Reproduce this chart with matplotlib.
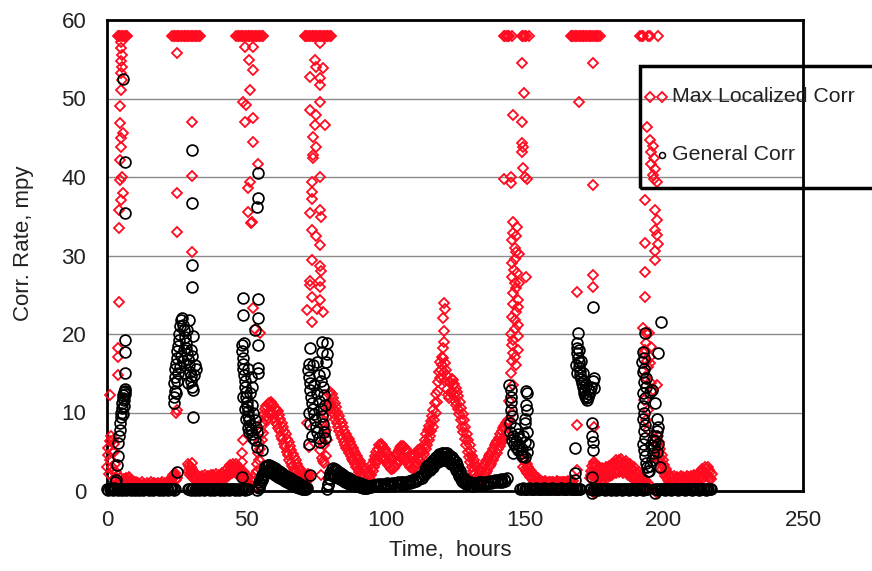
import numpy as np
import matplotlib
matplotlib.use("Agg")
import matplotlib.pyplot as plt
from matplotlib.lines import Line2D
from matplotlib.patches import Rectangle

plt.rcParams["font.family"] = ["Liberation Sans", "DejaVu Sans"]

x_ticks = [0, 50, 100, 150, 200, 250]
y_ticks = [0, 10, 20, 30, 40, 50, 60]
series_labels = ["Max Localized Corr", "General Corr"]
x_label = "Time,  hours"
y_label = "Corr. Rate, mpy"

# ---------------- Max Localized Corr: continuous record, one reading every 0.25 h ----------------
RED_STEP = 0.25
red_low_starts = [0.0, 29.0, 52.5, 77.0, 149.5, 173.5, 197.0]
red_low_1 = [3.0, 4.6, 5.5, 2.2, 4.0, 6.4, 7.0, 3.1, 2.5, 5.0,
             6.0, 1.6, 3.5, 2.4, 1.5, 1.0, 2.0, 0.8, 1.2, 1.6,
             1.0, 0.6, 0.8, 1.3, 1.5, 0.9, 1.0, 1.7, 1.5, 1.1,
             1.3, 1.8, 1.6, 1.0, 1.2, 1.4, 1.0, 0.7, 0.9, 1.1,
             0.8, 1.1, 0.7, 0.5, 0.6, 1.0, 0.7, 0.9, 0.8, 0.5,
             0.6, 1.1, 0.7, 0.9, 0.6, 0.4, 0.7, 1.0, 0.6, 0.8,
             0.5, 0.9, 0.7, 1.1, 0.8, 0.6, 0.6, 1.0, 0.7, 0.5,
             0.5, 0.9, 0.6, 1.0, 0.7, 0.5, 0.6, 0.9, 0.8, 1.1,
             0.7, 0.5, 0.6, 1.0, 0.7, 0.9, 0.8, 1.2, 0.9, 1.3,
             1.0, 1.4, 1.2, 1.7, 1.5, 2.0, 1.8, 2.3, 2.0, 1.4, 1.6]
red_low_2 = [3.5, 2.6, 3.2, 2.0, 2.5, 3.0, 2.2, 1.6, 1.8, 2.4, 1.9, 1.4, 1.6, 2.1, 1.5, 1.2,
             1.2, 1.8, 1.4, 1.0, 1.3, 1.9, 1.5, 1.1, 1.4, 2.0, 1.6, 1.2, 1.3, 1.9, 1.5, 1.1,
             1.5, 2.1, 1.7, 1.3, 1.4, 2.0, 1.6, 1.2, 1.6, 2.2, 1.8, 1.4, 1.5, 2.1, 1.7, 1.3,
             1.7, 2.3, 1.9, 1.5, 1.8, 2.5, 2.0, 1.6,
             2.0, 2.8, 2.4, 2.0, 2.5, 3.3, 2.9, 2.3, 2.6, 3.5, 3.0, 2.4, 2.5, 3.4, 2.9, 2.2,
             2.3, 3.1, 2.6, 1.9,
             1.7, 2.5, 2.1, 1.5, 1.6, 2.4, 2.0, 1.4, 1.2, 1.8, 1.0, 0.7]
red_low_3 = [0.4, 1.6, 0.6, 2.2, 1.4, 3.4, 2.6, 4.8,
             3.9, 6.2, 5.4, 7.6, 6.5, 8.6, 7.4, 9.8,
             8.5, 10.4, 9.0, 10.8, 9.6, 11.1, 9.9, 11.2,
             10.0, 11.3, 9.8, 11.1, 9.9, 10.9, 9.3, 10.6,
             8.8, 10.3, 8.5, 10.2, 8.0, 9.7, 7.6, 9.2,
             7.0, 8.7, 6.6, 8.2, 6.0, 7.7, 5.6, 7.2,
             5.0, 6.6, 4.6, 6.2, 4.0, 5.7, 3.6, 5.2,
             3.2, 4.7, 2.8, 4.3, 2.5, 3.9, 2.1, 3.5,
             1.8, 3.1, 1.5, 2.8, 1.3, 2.5, 1.1, 2.2,
             1.0, 1.9, 0.9, 1.7, 1.2, 2.0, 1.3, 2.2, 1.5, 2.0]
red_low_4 = [2.0, 4.2, 3.8, 6.2, 5.8, 8.2, 7.8, 10.0, 9.4, 11.2, 10.6, 12.4, 11.2, 12.6, 11.0, 12.3,
             10.4, 11.8, 9.8, 11.2, 9.2, 10.7, 8.7, 10.1, 8.1, 9.6, 7.7, 9.1, 7.1, 8.6, 6.7, 8.1,
             6.3, 7.7, 5.9, 7.3, 5.5, 6.9, 5.2, 6.6, 4.9, 6.2, 4.5, 5.9, 4.1, 5.5, 3.8, 5.1,
             3.4, 4.8, 3.1, 4.5, 2.8, 4.1, 2.4, 3.8, 2.1, 3.4, 1.8, 3.1, 1.5, 2.8, 1.3, 2.5,
             1.1, 2.3, 1.0, 2.1, 1.0, 2.2,
             1.5, 2.8, 2.0, 3.4, 2.6, 4.0, 3.1, 4.5, 3.6, 5.0, 4.0, 5.4, 4.4, 5.8, 4.6, 6.0,
             4.7, 5.9, 4.5, 5.6, 4.2, 5.3, 3.9, 5.0, 3.6, 4.7, 3.3, 4.4, 3.0, 4.2, 2.8, 4.1,
             2.8, 4.1, 2.9, 4.3, 3.2, 4.6, 3.5, 4.9, 3.8, 5.2, 4.0, 5.5, 4.2, 5.7, 4.3, 5.7,
             4.2, 5.6, 4.1, 5.4, 3.9, 5.1, 3.6, 4.9, 3.3, 4.6, 3.1, 4.4, 2.9, 4.3, 2.9, 4.3,
             3.0, 4.6, 3.3, 4.9, 3.6, 5.2, 3.9, 5.3, 3.8, 5.1,
             3.4, 5.0, 4.1, 5.8, 4.7, 6.5, 5.4, 7.2, 5.9, 7.8, 6.5, 8.3, 7.0, 8.9, 7.6, 9.6,
             8.2, 10.3, 9.0, 11.2, 9.9, 12.4, 11.3, 13.9, 12.8, 15.2, 14.4, 16.4, 15.4, 17.1, 16.0, 16.9,
             15.2, 16.3, 14.0, 15.4, 13.0, 14.6, 12.2, 13.9, 11.9, 13.9, 12.5, 14.3, 12.8, 14.2, 12.2, 13.6,
             11.5, 13.1, 11.0, 12.6, 10.4, 12.1, 9.8, 11.4, 9.0, 10.6, 8.2, 9.8, 7.5, 9.0, 6.6, 8.1,
             5.8, 7.3, 5.0, 6.5, 4.3, 5.8, 3.7, 5.1, 3.1, 4.5, 2.6, 4.0, 2.2, 3.5, 1.8, 3.1,
             1.5, 2.8, 1.4, 2.6, 1.3, 2.6, 1.5, 2.9, 1.8, 3.2, 2.1, 3.5, 2.3, 3.8, 2.6, 4.1,
             2.9, 4.4, 3.2, 4.7, 3.5, 5.0, 3.9, 5.4, 4.3, 5.8, 4.6, 6.1, 4.9, 6.4, 5.3, 6.8,
             5.7, 7.2, 6.1, 7.6, 6.5, 8.0, 6.8, 8.3, 7.1, 8.6, 7.3, 8.8]
red_low_5 = [3.0, 4.0, 2.8, 3.7, 2.5, 3.4, 2.3, 3.1, 2.0, 2.8, 1.8, 2.6, 1.6, 2.3, 1.4, 2.1,
             1.3, 1.9, 1.1, 1.7, 1.0, 1.6, 0.9, 1.4, 0.8, 1.3,
             0.7, 1.2, 0.6, 1.1, 0.8, 1.3, 0.7, 1.1, 0.6, 1.0, 0.8, 1.2, 0.7, 1.1, 0.6, 1.2,
             0.8, 1.1, 0.7, 1.0, 0.6, 1.2, 0.8, 1.3, 0.7, 1.1, 0.6, 1.0, 0.8, 1.2, 0.7, 1.1,
             0.6, 1.2, 0.8, 1.1, 0.7, 1.0, 0.8, 1.3, 0.9, 1.2, 0.8, 1.4, 1.0, 1.3]
red_low_6 = [1.6, 2.6, 2.0, 3.2, 2.4, 3.4, 1.9, 3.0, 2.2, 3.3, 1.7, 2.9, 2.0, 3.1, 1.6, 2.7,
             1.9, 2.9, 1.5, 2.5, 1.8, 2.8, 2.0, 3.1, 1.7, 2.7, 2.1, 3.2, 1.9, 2.9, 2.2, 3.4,
             2.0, 3.1, 2.4, 3.6, 2.6, 3.9, 2.3, 3.5, 2.7, 4.0, 2.4, 3.7, 2.8, 4.1, 2.5, 3.6,
             2.3, 3.4, 2.6, 3.8, 2.4, 3.5, 2.0, 3.1, 2.3, 3.4, 1.9, 2.9, 1.7, 2.7, 2.0, 3.0,
             1.6, 2.5, 1.4, 2.2, 1.2, 2.0, 1.5, 2.4, 1.3, 2.0, 1.1, 1.8, 1.0, 1.6, 0.9, 1.4,
             0.8, 1.2, 0.7, 1.0]
red_low_7 = [4.5, 6.6, 5.8, 7.0, 5.0, 6.3, 4.2, 5.4, 3.5, 4.6, 2.8, 3.9, 2.3, 3.3, 1.9, 2.8,
             1.6, 2.4, 1.4, 2.1, 1.2, 1.9,
             1.1, 1.8, 1.0, 1.7, 1.2, 1.9, 1.0, 1.6, 1.1, 1.8, 1.2, 1.7, 1.0, 1.6, 1.1, 1.9,
             1.2, 1.8, 1.0, 1.7, 1.1, 1.6, 1.2, 1.9, 1.0, 1.8, 1.1, 1.7, 1.2, 1.9, 1.1, 1.8,
             1.3, 2.0, 1.2, 1.9, 1.4, 2.1, 1.3, 2.0,
             1.5, 2.3, 1.6, 2.5, 1.8, 2.8, 1.7, 2.6, 2.0, 3.0, 1.9, 2.8, 2.1, 3.1, 1.8, 2.7,
             1.6, 2.4, 1.5, 2.2]
red_low = [red_low_1, red_low_2, red_low_3, red_low_4, red_low_5, red_low_6, red_low_7]

# readings pinned at the instrument ceiling (58 mpy)
red_cap_value = 58.0
red_cap_t = [3.8, 4.3, 4.8, 5.3, 5.8, 6.3, 6.8, 7.3,
             23.5, 24.0, 24.5, 25.0, 25.5, 26.0, 26.5, 27.0, 27.5, 28.0, 28.5,
             29.0, 29.5, 30.0, 30.5, 31.0, 31.5, 32.0, 32.5, 33.0, 33.5,
             46.5, 47.0, 47.5, 48.0, 48.5, 49.0, 49.5, 50.0, 50.5, 51.0,
             51.5, 52.0, 52.5, 53.0, 53.5, 54.0, 54.5, 55.0, 55.5, 56.0,
             71.0, 71.5, 72.0, 72.5, 73.0, 73.5, 74.0, 74.5, 75.0, 75.5,
             76.0, 76.5, 77.0, 77.5, 78.0, 78.5, 79.0, 79.5, 80.0, 80.5,
             142.5, 143.0, 143.5, 144.0, 144.5, 145.5, 149.0, 149.5, 150.0, 150.5, 151.5,
             166.5, 167.0, 167.5, 168.0, 168.5, 169.0, 169.5, 170.0, 170.5, 171.0, 171.5,
             172.0, 172.5, 173.0, 173.5, 174.0, 174.5, 175.0, 175.5, 176.0, 176.5, 177.0,
             191.5, 192.0, 192.5, 194.5, 195.0, 197.8]

# scattered readings during the upset episodes (hours, mpy)
red_spikes = [
    (5.0, 57.2), (5.2, 56.4), (5.4, 55.6), (5.1, 54.8), (5.3, 54.0), (4.9, 53.2), (5.4, 52.4),
    (5.0, 51.1), (4.6, 49.0), (4.7, 46.9), (5.8, 45.6), (5.2, 45.0), (4.9, 43.8), (4.6, 42.2),
    (5.5, 40.0), (4.8, 39.6), (5.6, 38.0), (4.9, 37.1), (4.3, 35.8), (4.4, 33.5), (4.2, 24.1),
    (4.0, 18.2), (4.1, 17.1), (3.8, 14.8), (1.2, 12.2), (2.0, 6.5), (2.6, 5.0),
    (25.0, 55.8), (30.4, 47.0), (25.0, 38.0), (30.4, 40.1), (25.0, 33.0), (30.4, 30.4),
    (25.0, 10.3), (24.8, 10.0), (23.5, 1.8), (30.4, 3.6), (30.6, 2.8), (30.2, 2.3),
    (49.6, 56.6), (52.5, 56.6), (51.0, 54.9), (52.3, 53.6), (51.5, 51.1), (48.8, 49.6),
    (50.0, 49.2), (49.6, 47.0), (52.3, 47.5), (52.5, 44.4), (54.3, 41.7), (51.5, 39.4),
    (50.8, 38.6), (50.8, 35.5), (52.0, 34.3), (51.8, 34.1), (52.3, 23.3), (55.0, 20.1),
    (53.0, 20.6), (48.8, 6.5), (48.4, 4.8), (48.4, 3.7), (48.6, 1.8),
    (76.5, 57.1), (74.7, 54.9), (75.2, 54.0), (77.6, 53.9), (72.9, 52.7), (76.5, 52.6),
    (76.5, 51.7), (76.5, 49.6), (72.9, 48.5), (75.2, 47.9), (78.3, 46.6), (74.7, 46.6),
    (74.0, 45.1), (75.2, 43.8), (74.0, 42.8), (74.0, 42.4), (76.5, 40.0), (73.5, 39.3),
    (73.5, 38.1), (73.5, 37.2), (72.9, 35.4), (76.5, 35.8), (77.0, 34.9), (73.5, 33.2),
    (75.2, 32.5), (76.5, 31.3), (73.5, 29.4), (76.5, 28.7), (77.0, 28.0), (72.9, 26.8),
    (76.5, 26.8), (72.9, 26.2), (76.5, 26.0), (73.8, 24.7), (76.5, 24.3), (71.8, 23.0),
    (75.5, 23.2), (77.6, 22.8), (73.5, 21.5), (71.8, 8.7), (72.5, 5.6), (76.5, 5.2),
    (78.3, 7.8), (78.0, 3.6), (79.0, 6.5), (78.6, 4.5),
    (121.0, 24.0), (121.5, 23.2), (120.8, 22.0), (121.2, 20.4), (121.0, 19.0), (120.6, 18.2),
    (149.0, 54.5), (149.8, 50.7), (145.7, 47.9), (149.0, 47.0), (149.0, 44.3), (149.5, 43.8),
    (149.0, 43.2), (149.5, 41.1), (145.0, 40.0), (150.0, 40.0), (142.6, 39.8), (145.0, 39.2),
    (151.0, 39.8), (146.0, 34.3), (146.0, 32.9), (147.0, 32.5), (145.5, 32.0), (147.0, 30.4),
    (148.0, 30.2), (146.5, 29.5), (145.5, 27.3), (150.5, 27.3), (146.5, 26.5), (148.0, 26.5),
    (146.0, 25.2), (147.5, 24.3), (147.5, 23.4), (145.5, 22.2), (146.5, 21.8), (147.5, 21.2),
    (146.5, 20.6), (146.0, 19.2), (145.5, 18.6), (147.5, 18.0), (146.5, 17.1), (145.5, 16.6),
    (147.0, 16.0), (145.0, 15.0), (146.0, 13.5), (144.5, 11.5), (145.5, 10.0), (144.0, 9.0),
    (146.2, 28.2), (147.2, 27.8), (145.8, 23.8), (146.8, 22.8), (147.8, 19.8), (145.2, 20.0),
    (146.0, 17.6), (147.0, 25.8), (146.4, 31.0), (145.6, 29.0), (147.4, 33.6),
    (174.5, 54.5), (169.5, 49.6), (174.5, 39.0), (174.5, 27.5), (174.5, 26.0), (169.0, 25.4),
    (168.8, 8.4), (168.8, 2.7), (174.8, 8.2), (174.8, 3.7), (174.8, -0.3),
    (193.9, 46.4), (195.0, 44.7), (196.0, 44.0), (195.5, 43.2), (196.5, 42.4), (195.5, 41.6),
    (197.0, 41.0), (196.0, 40.3), (196.5, 39.8), (197.5, 39.4), (193.2, 37.1), (196.8, 35.8),
    (197.5, 34.5), (196.8, 33.3), (197.5, 32.6), (198.0, 31.5), (196.8, 30.6), (196.8, 29.4),
    (193.2, 31.6), (193.2, 27.9), (193.2, 24.7), (192.5, 20.8), (194.8, 20.1), (193.6, 18.9),
    (193.2, 18.0), (195.5, 18.3), (195.2, 17.1), (194.2, 15.8), (193.2, 14.5), (197.5, 13.5),
    (196.0, 12.9), (192.8, 11.6), (194.2, 10.3), (193.6, 9.0), (194.2, 7.8), (197.5, 4.0),
    (198.2, 4.0), (193.5, 20.1), (192.8, 17.6), (194.0, 16.6), (195.0, 16.3), (195.5, 13.8),
    (197.6, -0.2),
]

# ---------------- General Corr: continuous record ----------------
black_low_starts = [0.0, 29.0, 54.0, 79.0, 94.0, 114.0, 129.0, 148.5, 173.5, 197.0]
black_low_steps = [0.5, 0.5, 0.25, 0.25, 0.5, 0.25, 0.5, 0.5, 0.5, 0.5]
black_low_1 = [0.2, 0.1, 0.3, 0.2, 0.1, 0.4, 0.2, 0.3, 0.1, 0.2,
               0.3, 0.1, 0.2, 0.2, 0.1, 0.3, 0.2, 0.1, 0.2, 0.3,
               0.1, 0.2, 0.2, 0.1, 0.3, 0.2, 0.1, 0.2, 0.2, 0.3,
               0.1, 0.2, 0.2, 0.1, 0.2, 0.3, 0.2, 0.1, 0.2, 0.2,
               0.1, 0.3, 0.2, 0.2, 0.1, 0.2, 0.3, 0.2, 0.1, 0.2]
black_low_2 = [0.2, 0.3, 0.1, 0.2, 0.2, 0.1, 0.3, 0.2, 0.1, 0.2,
               0.3, 0.2, 0.1, 0.2, 0.2, 0.3, 0.1, 0.2, 0.2, 0.1,
               0.2, 0.3, 0.2, 0.1, 0.2, 0.2, 0.1, 0.3, 0.2, 0.2,
               0.1, 0.2, 0.3, 0.2, 0.1, 0.2, 0.2, 0.1, 0.3, 0.2,
               0.2, 0.1, 0.2, 0.3]
black_low_3 = [0.1, 0.6, 0.4, 1.1, 0.9, 1.6, 1.4, 2.1, 1.8, 2.6, 2.2, 3.0, 2.4, 3.2, 2.5, 3.3,
               2.6, 3.3, 2.5, 3.2, 2.4, 3.1, 2.3, 3.0, 2.2, 2.9, 2.1, 2.8, 1.9, 2.6, 1.8, 2.5,
               1.7, 2.4, 1.6, 2.3, 1.5, 2.1, 1.4, 2.0, 1.3, 1.9, 1.2, 1.8, 1.1, 1.7, 1.0, 1.6,
               0.9, 1.5, 0.8, 1.4, 0.7, 1.3, 0.6, 1.2, 0.5, 1.1, 0.5, 1.0, 0.4, 0.9, 0.4, 0.8,
               0.3, 0.7, 0.3, 0.6, 0.2, 0.5, 0.2, 0.4]
black_low_4 = [0.2, 0.9, 0.8, 1.6, 1.5, 2.3, 2.0, 2.8, 2.1, 2.9, 2.0, 2.8, 1.9, 2.7, 1.8, 2.5,
               1.7, 2.4, 1.6, 2.3, 1.5, 2.2, 1.4, 2.0, 1.3, 1.9, 1.2, 1.8, 1.1, 1.7, 1.0, 1.6,
               0.9, 1.5, 0.9, 1.4, 0.8, 1.3, 0.8, 1.2, 0.7, 1.2, 0.7, 1.1, 0.6, 1.0, 0.6, 1.0,
               0.5, 0.9, 0.5, 0.9, 0.4, 0.8, 0.4, 0.8, 0.4, 0.7, 0.4, 0.7]
black_low_5 = [0.5, 0.7, 0.5, 0.8, 0.6, 0.8, 0.6, 0.9, 0.7, 0.9,
               0.6, 0.9, 0.7, 1.0, 0.7, 0.9, 0.8, 1.0, 0.7, 1.0,
               0.8, 1.1, 0.8, 1.1, 0.9, 1.2, 0.9, 1.2, 1.0, 1.3,
               1.0, 1.4, 1.1, 1.5, 1.3, 1.7, 1.5, 1.9, 1.7, 2.2]
black_low_6 = [2.0, 2.7, 2.3, 3.0, 2.6, 3.3, 2.8, 3.5, 2.7, 3.4, 2.9, 3.6, 3.1, 3.9, 3.4, 4.1,
               3.6, 4.3, 3.8, 4.5, 3.9, 4.7, 3.8, 4.5, 4.0, 4.8, 4.1, 4.9, 4.0, 4.7, 3.9, 4.8,
               4.1, 4.9, 3.9, 4.6, 3.7, 4.4, 3.5, 4.3, 3.4, 4.1, 3.3, 4.0, 3.1, 3.7, 2.7, 3.3,
               2.3, 2.9, 1.9, 2.5, 1.5, 2.1, 1.3, 1.8, 1.1, 1.6, 1.0, 1.4]
black_low_7 = [0.9, 1.2, 0.8, 1.1, 0.7, 1.0, 0.7, 1.0, 0.8, 1.1,
               0.8, 1.1, 0.9, 1.2, 0.9, 1.2, 1.0, 1.3, 1.0, 1.3,
               1.1, 1.4, 1.1, 1.4, 1.2, 1.5, 1.2, 1.5, 1.3, 1.6]
black_low_8 = [0.3, 0.2, 0.4, 0.3, 0.2, 0.3, 0.4, 0.2, 0.3, 0.2,
               0.3, 0.4, 0.2, 0.3, 0.2, 0.3, 0.2, 0.4, 0.3, 0.2,
               0.3, 0.2, 0.3, 0.4, 0.2, 0.3, 0.2, 0.3, 0.2, 0.4,
               0.3, 0.2, 0.3, 0.2, 0.3, 0.4, 0.2, 0.3, 0.2, 0.3,
               0.2, 0.3, 0.2, 0.3]
black_low_9 = [0.2, 0.3, 0.1, 0.2, 0.3, 0.2, 0.1, 0.2, 0.3, 0.2,
               0.2, 0.1, 0.3, 0.2, 0.2, 0.1, 0.2, 0.3, 0.2, 0.1,
               0.2, 0.2, 0.3, 0.1, 0.2, 0.2, 0.3, 0.2, 0.1, 0.2,
               0.3, 0.2, 0.2, 0.1, 0.2, 0.3, 0.2, 0.2, 0.1, 0.2,
               0.3, 0.2]
black_low_10 = [0.3, 0.2, 0.1, 0.2, 0.3, 0.2, 0.2, 0.1, 0.2, 0.3,
                0.2, 0.1, 0.2, 0.2, 0.3, 0.2, 0.1, 0.2, 0.3, 0.2,
                0.2, 0.1, 0.2, 0.3, 0.2, 0.2, 0.1, 0.2, 0.2, 0.3,
                0.2, 0.1, 0.2, 0.2, 0.3, 0.2, 0.1, 0.2, 0.2, 0.3, 0.2]
black_low = [black_low_1, black_low_2, black_low_3, black_low_4, black_low_5,
             black_low_6, black_low_7, black_low_8, black_low_9, black_low_10]

black_spikes = [
    (3.0, 1.1), (3.3, 1.4), (3.6, 3.3), (3.9, 4.5), (4.1, 6.1), (4.3, 7.0), (4.5, 7.8),
    (4.7, 8.6), (4.9, 9.4), (5.1, 10.0), (5.3, 10.6), (5.5, 11.2), (5.7, 11.8), (5.9, 12.2),
    (6.1, 12.6), (6.3, 12.8), (6.5, 12.4), (6.2, 11.6), (6.0, 10.8), (5.8, 9.8), (6.4, 13.0),
    (6.5, 19.2), (6.5, 17.7), (6.5, 15.0), (5.8, 52.5), (6.5, 41.9), (6.5, 35.4),
    (24.0, 11.2), (24.2, 12.0), (24.4, 12.8), (24.0, 13.8), (24.6, 14.5), (24.3, 15.5),
    (24.8, 16.2), (25.0, 17.0), (25.2, 17.8), (25.5, 18.5), (25.8, 19.2), (26.0, 20.0),
    (26.3, 21.0), (26.6, 21.8), (27.0, 22.0), (27.3, 21.2), (27.6, 20.5), (27.9, 19.6),
    (28.2, 18.8), (28.5, 18.2), (28.8, 17.5), (29.1, 16.8), (29.4, 16.0), (29.7, 15.2),
    (30.0, 14.6), (30.3, 14.0), (30.6, 13.2), (30.9, 12.9), (31.2, 14.8), (31.5, 16.0),
    (31.8, 15.5), (25.2, 14.0), (26.2, 15.8), (27.2, 16.5), (28.0, 15.0), (29.0, 13.8),
    (30.0, 18.0), (31.0, 19.8), (27.5, 18.0), (26.5, 17.2), (28.8, 20.5), (25.6, 15.0),
    (29.6, 21.8), (30.4, 17.2), (25.0, 2.4), (30.9, 9.4), (30.4, 26.0), (30.4, 28.8),
    (30.4, 36.7), (30.4, 43.4), (24.9, 12.5),
    (48.5, 18.6), (48.6, 17.8), (48.8, 17.0), (48.9, 16.2), (49.0, 15.5), (49.2, 14.8),
    (49.4, 14.0), (49.6, 13.3), (49.8, 12.6), (50.0, 12.0), (50.2, 11.4), (50.4, 10.8),
    (50.6, 10.2), (50.8, 9.6), (51.0, 9.0), (51.3, 8.4), (51.6, 7.8), (52.0, 7.2),
    (52.4, 6.8), (49.0, 12.0), (49.5, 10.5), (50.0, 9.2), (50.5, 8.0), (51.0, 7.5),
    (51.5, 12.5), (52.0, 11.0), (52.5, 10.0), (53.0, 9.0), (53.5, 8.2), (54.0, 7.5),
    (52.2, 13.2), (51.8, 14.5), (50.8, 15.5), (53.2, 6.5), (53.8, 5.6), (55.5, 5.2),
    (48.8, 22.4), (48.8, 24.6), (54.2, 24.4), (54.2, 22.0), (54.2, 18.6), (54.2, 15.7),
    (54.2, 15.0), (53.2, 20.5), (48.4, 1.8), (54.2, 40.5), (54.2, 37.3), (54.0, 36.2),
    (49.2, 18.9),
    (72.9, 18.2), (77.3, 19.0), (77.3, 17.7), (75.5, 16.4), (72.5, 16.2), (72.3, 15.4),
    (72.6, 14.5), (72.8, 13.7), (73.0, 12.9), (73.3, 12.0), (73.6, 11.2), (74.0, 10.5),
    (74.4, 9.8), (74.8, 9.0), (75.2, 8.2), (75.6, 7.5), (76.0, 6.8), (76.4, 6.2),
    (72.5, 10.0), (73.0, 8.5), (73.5, 7.0), (72.4, 6.0), (74.5, 13.5), (75.5, 12.5),
    (76.2, 11.5), (76.8, 10.5), (77.3, 9.5), (77.6, 8.5), (77.9, 7.5), (78.2, 6.8),
    (77.0, 14.0), (77.6, 13.2), (78.0, 12.2), (78.3, 11.0), (78.0, 15.0), (76.0, 14.8),
    (74.0, 16.0), (78.6, 16.4), (79.0, 17.4), (79.2, 18.8), (72.9, 2.0),
    (144.5, 13.5), (145.0, 12.9), (150.8, 12.5), (145.0, 11.3), (150.5, 11.0), (145.0, 10.3),
    (150.8, 10.3), (144.8, 8.7), (150.3, 8.7), (144.8, 7.5), (150.8, 7.5), (145.5, 6.5),
    (146.2, 6.0), (147.0, 5.6), (147.8, 5.2), (148.6, 4.8), (149.4, 4.5), (150.2, 4.3),
    (146.0, 7.0), (147.0, 6.4), (148.0, 5.8), (149.0, 5.4), (146.5, 8.0), (147.5, 7.2),
    (148.5, 6.6), (145.5, 9.5), (150.0, 6.2), (151.0, 5.0), (149.0, 4.4), (146.0, 4.8),
    (150.0, 9.2), (145.2, 12.0), (150.5, 12.8), (149.5, 7.0), (151.2, 6.0),
    (169.1, 20.1), (168.8, 18.9), (168.9, 18.2), (169.0, 17.6), (169.2, 17.0), (169.4, 16.4),
    (169.6, 15.8), (169.8, 15.3), (170.0, 14.8), (170.3, 14.3), (170.6, 13.8), (170.9, 13.3),
    (171.2, 12.9), (171.5, 12.5), (171.8, 12.1), (172.1, 11.8), (172.4, 11.6), (172.8, 12.0),
    (173.2, 12.4), (173.6, 12.8), (174.0, 13.2), (174.5, 14.0), (175.0, 14.4), (174.8, 13.1),
    (169.5, 18.0), (170.2, 16.5), (170.8, 15.0), (171.4, 14.0), (172.0, 13.5), (172.6, 13.0),
    (168.5, 16.0), (174.5, 23.4), (168.0, 5.5), (168.0, 2.3), (168.0, 1.4), (174.2, 8.7),
    (174.2, 7.0), (174.5, 6.2), (174.5, 5.2), (174.2, 1.8), (174.2, -0.2), (169.0, 15.0),
    (199.0, 21.5), (197.8, 17.6), (193.2, 20.1), (192.5, 17.7), (192.3, 16.4), (192.5, 15.1),
    (192.8, 13.9), (193.0, 17.0), (192.6, 12.5), (193.2, 11.8), (192.4, 10.8), (193.0, 10.0),
    (192.6, 9.2), (193.4, 8.4), (192.8, 7.6), (193.2, 6.8), (192.5, 6.0), (193.0, 5.2),
    (193.4, 4.4), (193.6, 3.6), (194.0, 3.0), (194.4, 2.6), (194.8, 2.5), (195.2, 3.2),
    (195.6, 4.0), (196.0, 4.8), (196.4, 5.6), (196.8, 6.4), (197.2, 7.0), (197.6, 7.6),
    (198.0, 8.2), (197.8, 6.0), (197.4, 5.0), (196.0, 6.5), (195.5, 5.8), (193.6, 13.2),
    (195.0, 12.6), (195.7, 12.9), (196.8, 11.2), (197.5, 9.2), (198.5, 3.0), (196.8, -0.2),
    (193.0, 15.6), (193.5, 14.4),
]


def expand(starts, steps, segments):
    ts, vs = [], []
    for s, st, seg in zip(starts, steps, segments):
        ts.append(s + st * np.arange(len(seg)))
        vs.append(np.asarray(seg, dtype=float))
    return np.concatenate(ts), np.concatenate(vs)


red_t_low, red_v_low = expand(red_low_starts, [RED_STEP] * len(red_low), red_low)
blk_t_low, blk_v_low = expand(black_low_starts, black_low_steps, black_low)
red_sp_t, red_sp_v = map(np.array, zip(*red_spikes))
blk_sp_t, blk_sp_v = map(np.array, zip(*black_spikes))
red_cap_t = np.array(red_cap_t)

red_t = np.concatenate([red_t_low, red_cap_t, red_sp_t])
red_v = np.concatenate([red_v_low, np.full(red_cap_t.size, red_cap_value), red_sp_v])
blk_t = np.concatenate([blk_t_low, blk_sp_t])
blk_v = np.concatenate([blk_v_low, blk_sp_v])

RED = "#ff0a1e"
TXT = "#222222"

W, H = 872, 571
fig = plt.figure(figsize=(W / 100, H / 100), dpi=100)
fig.patch.set_facecolor("white")
ax = fig.add_axes([107 / W, 1 - 491 / H, (803 - 107) / W, (491 - 20) / H])
ax.set_xlim(0, 250)
ax.set_ylim(0, 60)

red_style = dict(ls="none", marker="D", ms=5.2, mfc="none", mec=RED, mew=1.3)
blk_style = dict(ls="none", marker="o", ms=7.8, mfc="none", mec="black", mew=1.25)

ax.plot(red_t, red_v, clip_on=False, zorder=3, **red_style)
ax.plot(blk_t, blk_v, clip_on=False, zorder=4, **blk_style)

ax.set_xticks(x_ticks)
ax.set_yticks(y_ticks)
ax.yaxis.grid(True, color="#8a8a8a", lw=1.0)
ax.set_axisbelow(True)
ax.tick_params(axis="both", length=0, labelsize=16, labelcolor=TXT)
ax.tick_params(axis="x", pad=14)
ax.tick_params(axis="y", pad=15)
for sp in ax.spines.values():
    sp.set_linewidth(2.0)
    sp.set_color("black")

ax.set_xlabel(x_label, fontsize=16, color=TXT)
ax.xaxis.set_label_coords((450 - 107) / 696, (491 - 540) / 471)
ax.xaxis.label.set_va("top")
ax.set_ylabel(y_label, fontsize=16, color=TXT)
ax.yaxis.set_label_coords((34 - 107) / 696, (491 - 243) / 471)


# legend (drawn in figure pixel space, transparent box partly outside the axes)
def fx(px):
    return px / W


def fy(py):
    return 1 - py / H


fig.add_artist(Line2D([fx(650), fx(662)], [fy(97), fy(97)], transform=fig.transFigure,
                      **red_style))
fig.add_artist(Line2D([fx(662)], [fy(155)], transform=fig.transFigure, ls="none",
                      marker="o", ms=4.3, mfc="none", mec="black", mew=1.1))
fig.text(fx(672), fy(97), series_labels[0], fontsize=15.3, color=TXT, va="center", ha="left")
fig.text(fx(672), fy(155), series_labels[1], fontsize=15.3, color=TXT, va="center", ha="left")
fig.add_artist(Rectangle((fx(640), fy(188)), (876 - 640) / W, (188 - 66) / H,
                         transform=fig.transFigure, fill=False, lw=2.5, ec="black",
                         clip_on=False))

fig.savefig("out.png", dpi=100)
